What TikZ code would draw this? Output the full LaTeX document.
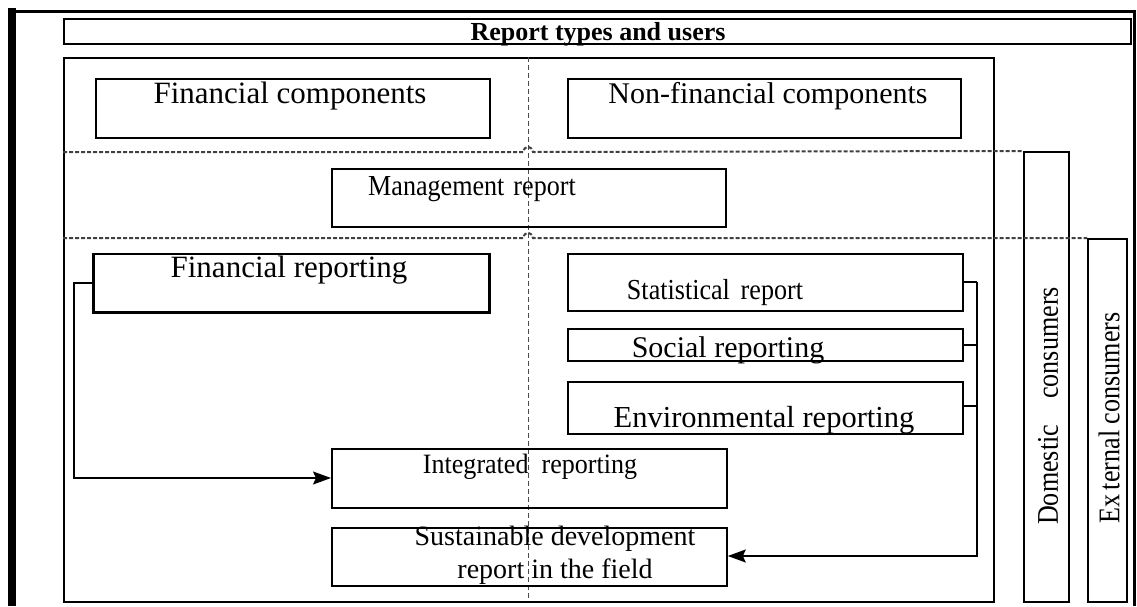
\documentclass[tikz,border=0pt]{standalone}
\usepackage{fontspec}
\setmainfont{Liberation Serif}
\usetikzlibrary{arrows.meta}
% narrow lettering used for some of the labels
\newcommand{\narrow}[2]{\scalebox{#1}[1]{#2}}
\begin{document}
\begin{tikzpicture}[x=1pt,y=-1pt,
  box/.style={draw, line width=1.8pt, inner sep=0pt, anchor=north west},
  txt/.style={inner sep=0pt, anchor=base, font=\fontsize{30}{34}\selectfont},
  sep/.style={draw=black!75, line width=2pt, dash pattern=on 4pt off 2pt},
  axis/.style={draw=black!70, line width=1pt, dash pattern=on 5pt off 3pt},
  link/.style={draw, line width=1.6pt},
  arr/.style={link, -{Stealth[length=18pt,width=13pt,inset=3pt]}}]
\useasboundingbox (0,0) rectangle (1137,606);
\fill[white] (0,0) rectangle (1137,606);

% outer frame
\draw[line width=3pt] (10,11) -- (1134,11) -- (1134,606);
\draw[line width=8pt] (12,8) -- (12,606);

% title bar
\node[box, minimum width=1067pt, minimum height=25pt] (title) at (63,18) {};
\node[inner sep=0pt, anchor=base, font=\fontsize{26}{30}\selectfont\bfseries] (titleT) at (598,40) {Report types and users};

% main area
\node[box, minimum width=930pt, minimum height=544pt] (main) at (63,57) {};
\coordinate (axTop) at (528,57);
\coordinate (axBot) at (528,601);
\draw[axis] (axTop) -- (axBot);

% consumer columns
\node[box, minimum width=45pt, minimum height=450pt] (dom) at (1023,151) {};
\node[box, minimum width=39pt, minimum height=363pt] (ext) at (1087,238) {};
\node[inner sep=0pt, rotate=90, font=\fontsize{30}{34}\selectfont] (domT) at (1048,406) {\narrow{0.87}{Domestic\hspace{30pt}consumers}};
\node[inner sep=0pt, rotate=90, font=\fontsize{30}{34}\selectfont] (extT) at (1109,418) {\narrow{0.87}{Ex\,ternal consumers}};

% dashed separators with a jump over the axis
\draw[sep] (main.west |- 0,152) -- (523,152) .. controls (525,145) and (531,145) .. (533,152) -- (dom.north west);
\draw[sep] (main.west |- 0,238) -- (523,238) .. controls (525,231) and (531,231) .. (533,238) -- (ext.north west);

% component boxes
\node[box, minimum width=394pt, minimum height=59pt] (finc) at (95,78) {};
\node[txt, font=\fontsize{31}{34}\selectfont] (fincT) at (290,103) {Financial components};
\node[box, minimum width=393pt, minimum height=59pt] (nfinc) at (567,78) {};
\node[txt] (nfincT) at (768,103) {Non-financial components};

\node[box, minimum width=394pt, minimum height=58pt] (mgmt) at (331,168) {};
\node[txt, font=\fontsize{29}{32}\selectfont] (mgmtT) at (472,195) {\narrow{0.9}{Management\hspace{10pt}report}};

% report boxes
\node[box, minimum width=395pt, minimum height=58pt] (finr) at (93,253) {};
\draw[line width=3pt] (finr.north west) -- (finr.south west) -- (finr.south east) -- (finr.north east);
\node[txt, font=\fontsize{31}{34}\selectfont] (finrT) at (289,277) {Financial reporting};

\node[box, minimum width=395pt, minimum height=57pt] (stat) at (567,253) {};
\node[txt, font=\fontsize{29}{32}\selectfont] (statT) at (715,299) {\narrow{0.9}{Statistical\hspace{12pt}report}};
\node[box, minimum width=395pt, minimum height=32pt] (soc) at (567,328) {};
\node[txt] (socT) at (728,357) {Social reporting};
\node[box, minimum width=395pt, minimum height=52pt] (env) at (567,381) {};
\node[txt, font=\fontsize{30.5}{34}\selectfont] (envT) at (764,427) {Environmental reporting};

\node[box, minimum width=395pt, minimum height=59pt] (integ) at (331,448) {};
\node[txt, font=\fontsize{28}{32}\selectfont] (integT) at (530,473) {\narrow{0.93}{Integrated\hspace{14pt}reporting}};
\node[box, minimum width=395pt, minimum height=58pt] (sust) at (331,527) {};
\node[txt, font=\fontsize{28}{32}\selectfont] (sustT1) at (555,545) {Sustainable development};
\node[txt, font=\fontsize{28}{32}\selectfont] (sustT2) at (555,578) {report in the field};

% connectors
\draw[arr] (finr.west |- 0,283) -- (74,283) coordinate (finrTurn) |- (integ.west |- 0,478);
\draw[link] (stat.east |- 0,282) -- (977,282) coordinate (bus);
\draw[link] (soc.east) -- (soc.east -| bus);
\draw[link] (env.east |- 0,406) -- (bus |- 0,406);
\draw[arr] (bus) |- (sust.east |- 0,556);
\end{tikzpicture}
\end{document}
